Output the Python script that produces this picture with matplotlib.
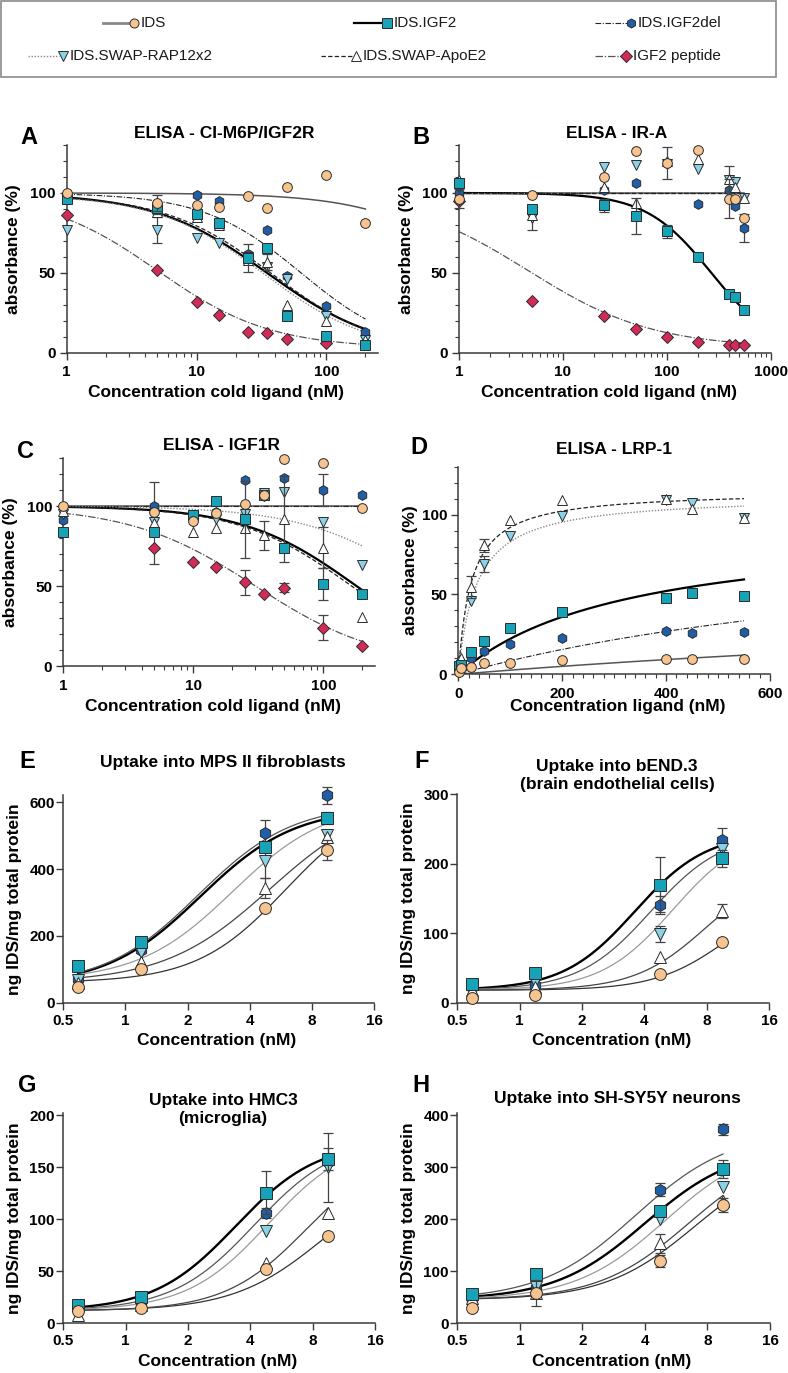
import numpy as np
import matplotlib
matplotlib.use('Agg')
import matplotlib.pyplot as plt
import matplotlib.ticker as ticker
from matplotlib.patches import Rectangle

plt.rcParams['font.family'] = ['Liberation Sans', 'DejaVu Sans']
plt.rcParams['font.weight'] = 'bold'

nan = np.nan

keys = ['IDS', 'IGF2', 'IGF2del', 'RAP', 'ApoE', 'pep']
names = {'IDS': 'IDS', 'IGF2': 'IDS.IGF2', 'IGF2del': 'IDS.IGF2del',
         'RAP': 'IDS.SWAP-RAP12x2', 'ApoE': 'IDS.SWAP-ApoE2', 'pep': 'IGF2 peptide'}

########################################
# A - ELISA CI-M6P/IGF2R
########################################
a_conc = [1, 5, 10, 15, 25, 35, 50, 100, 200]
a_vals = {'IDS':     [100, 94, 92.7, 91, 98, 90.6, 103.7, 111, 81],
          'IGF2':    [96, 90.6, 87, 81, 59.4, 65.6, 23, 10.6, 5],
          'IGF2del': [97, 92, 99, 95, 62, 77, 48, 29.6, 13],
          'RAP':     [77, 77, 72, 69, 60, 54, 46, 23, 8],
          'ApoE':    [97, 88, 85, 80, 58, 57, 30, 20, 8],
          'pep':     [86, 52, 32, 24, 13, 12.3, 8.5, 6, nan]}
a_err = {'IDS':  [0, 5, 0, 0, 0, 0, 0, 0, 0],
         'IGF2': [0, 4, 0, 3, 9, 0, 0, 0, 0],
         'RAP':  [0, 8, 0, 0, 0, 0, 0, 0, 0],
         'ApoE': [0, 0, 0, 0, 0, 5, 0, 0, 0]}
# bottom, top, IC50, hill
a_fit = {'IDS': (0, 100, 1800, 1), 'IGF2': (0, 100, 35, 1),
         'IGF2del': (0, 100, 64, 1.15), 'RAP': (0, 99, 33, 1.05),
         'ApoE': (0, 99, 38, 1.05), 'pep': (3, 100, 5, 1)}

########################################
# B - ELISA IR-A
########################################
b_conc = [1, 5, 25, 50, 100, 200, 400, 450, 550]
b_vals = {'IDS':     [96.5, 98.5, 110, 126, 118.8, 127, 96.5, 96.5, 84],
          'IGF2':    [106, 90, 92.3, 85.6, 76, 59.6, 37, 35, 27],
          'IGF2del': [100, 88, 101.7, 106, nan, 93, 101.7, 92, 78],
          'RAP':     [104, 84, 116, 117.7, 118, 115, 108, 107, 97],
          'ApoE':    [108, 86, 104, 94, 120, 121, 109, 104, 97],
          'pep':     [95, 32.5, 23, 15, 9.6, 6.4, 5, 5, 5]}
b_err = {'IDS':     [6, 0, 0, 0, 10, 0, 12, 0, 0],
         'IGF2':    [0, 0, 4, 11, 4, 0, 0, 0, 0],
         'IGF2del': [0, 0, 0, 0, 0, 0, 0, 0, 9],
         'RAP':     [0, 7, 0, 0, 0, 0, 0, 0, 0],
         'ApoE':    [0, 0, 0, 0, 0, 0, 8, 0, 0]}
b_fit = {'IDS': (100, 100, 1, 1), 'IGF2': (0, 100, 268, 1.38),
         'IGF2del': (100, 100, 1, 1), 'RAP': (100, 100, 1, 1),
         'ApoE': (100, 100, 1, 1), 'pep': (3, 100, 4.6, 0.72)}

########################################
# C - ELISA IGF1R
########################################
c_conc = [1, 5, 10, 15, 25, 35, 50, 100, 200]
c_vals = {'IDS':     [100, 96.5, 90.6, 95.8, 101.5, 106.7, 129.6, 126.7, 99],
          'IGF2':    [84, 84, 94.4, 103, 91.7, 107, 74, 51, 45],
          'IGF2del': [91, 100, 94, 96, 116, 106, 117.7, 110, 107],
          'RAP':     [95, 90, 90, 92, 95, 108, 109, 90, 63],
          'ApoE':    [97, 89.6, 84, 86, 86, 81.7, 91.7, 74, 30.8],
          'pep':     [nan, 74, 65, 62, 52.3, 45, 49, 24, 12.5]}
c_err = {'IGF2':    [0, 0, 0, 0, 24, 0, 0, 10, 0],
         'IGF2del': [0, 15, 0, 0, 0, 0, 0, 10, 0],
         'ApoE':    [0, 0, 0, 0, 0, 9, 27, 13, 0],
         'pep':     [0, 10, 0, 0, 8, 0, 3, 8, 0]}
c_fit = {'IDS': (100, 100, 1, 1), 'IGF2': (0, 100, 180, 1),
         'IGF2del': (100, 100, 1, 1), 'RAP': (0, 100, 660, 0.92),
         'ApoE': (0, 100, 165, 1), 'pep': (0, 100, 30, 0.9)}

########################################
# D - ELISA LRP-1 (binding)
########################################
d_conc = [1, 5, 25, 50, 100, 200, 400, 450, 550]
d_vals = {'IDS':     [1.6, 3.7, 4.8, 6.9, 7.3, 9, 9.6, 9.3, 9.3],
          'IGF2':    [5.2, 6, 13.7, 21, 28.7, 38.7, 47.5, 51, 49],
          'IGF2del': [3, 5, 10, 14.6, 19, 23, 27.3, 25.6, 26.6],
          'RAP':     [4, 6, 46, 69, 86.4, 99, 109, 107, 98],
          'ApoE':    [9, 10, 54.7, 80.8, 96.8, 109.4, 110, 103.7, 98]}
d_err = {'RAP':  [0, 0, 0, 5, 0, 0, 0, 0, 0],
         'ApoE': [0, 0, 7, 4, 0, 0, 0, 0, 0]}
# Bmax, Kd
d_fit = {'IDS': (60, 2200), 'IGF2': (94.5, 325), 'IGF2del': (97.7, 1054),
         'RAP': (112, 35), 'ApoE': (115, 25)}

########################################
# E-H - cellular uptake
########################################
uptake_conc = [0.59, 1.19, 4.75, 9.5]

e_vals = {'IDS': [48, 100, 283, 458], 'IGF2': [111, 183, 466, 552],
          'IGF2del': [70, 158, 508, 621], 'RAP': [68, 153, 423, 503],
          'ApoE': [60, 123, 343, 495]}
e_err = {'IDS': [0, 0, 0, 30], 'IGF2': [0, 0, 0, 18], 'IGF2del': [0, 0, 40, 25],
         'RAP': [0, 0, 50, 0], 'ApoE': [0, 0, 30, 0]}
e_fit = {'IDS': (60, 620, 6, 2), 'IGF2': (50, 585, 2.3, 1.9),
         'IGF2del': (50, 595, 2.25, 1.9), 'RAP': (65, 600, 3.3, 1.9),
         'ApoE': (60, 620, 5, 1.7)}

f_vals = {'IDS': [6.3, 11, 41.4, 88], 'IGF2': [26.5, 43.4, 170, 207.7],
          'IGF2del': [23, 25, 140, 233.7], 'RAP': [20.7, 30, 99, 220.7],
          'ApoE': [18, 23, 66.5, 132.5]}
f_err = {'IGF2': [0, 0, 40, 12], 'IGF2del': [0, 0, 13, 18],
         'RAP': [0, 0, 12, 0], 'ApoE': [0, 0, 0, 10]}
f_fit = {'IDS': (18, 160, 10, 2.5), 'IGF2': (18, 245, 3.6, 2.5),
         'IGF2del': (18, 245, 4.3, 2.5), 'RAP': (18, 250, 5.5, 2.5),
         'ApoE': (18, 200, 8, 2.5)}

g_vals = {'IDS': [12.2, 15, 52, 83.5], 'IGF2': [17.7, 25.7, 125.8, 158],
          'IGF2del': [14, 20, 106, 155], 'RAP': [13, 20, 89, 150],
          'ApoE': [8, 18, 57.8, 106]}
g_err = {'IGF2': [0, 0, 21, 11], 'IGF2del': [0, 0, 5, 0], 'RAP': [0, 0, 0, 33]}
g_fit = {'IDS': (12, 150, 9, 2), 'IGF2': (12, 175, 3.4, 2.2),
         'IGF2del': (12, 178, 4.2, 2.2), 'RAP': (12, 180, 4.9, 2.2),
         'ApoE': (12, 170, 7.5, 2.2)}

h_vals = {'IDS': [30, 58, 120, 228], 'IGF2': [56, 95, 217, 297],
          'IGF2del': [42, 67.5, 257, 373], 'RAP': [45, 70, 200.6, 262],
          'ApoE': [48, 58, 154, 235]}
h_err = {'IDS': [0, 25, 12, 14], 'IGF2': [0, 0, 0, 17],
         'IGF2del': [0, 0, 13, 10], 'ApoE': [0, 0, 18, 0]}
h_fit = {'IDS': (45, 330, 7, 2), 'IGF2': (45, 340, 4, 2),
         'IGF2del': (45, 370, 3.6, 1.9), 'RAP': (45, 350, 5, 2),
         'ApoE': (45, 340, 6.5, 2)}


def decline(x, bottom, top, mid, hill):
    return bottom + (top - bottom) / (1 + (x / mid) ** hill)

def rise(x, bottom, top, mid, hill):
    return bottom + (top - bottom) / (1 + (mid / x) ** hill)

def binding(x, bmax, kd):
    return bmax * x / (kd + x)


########################################
# Styles
########################################
markers = {'IDS': ('o', '#F7C48F'), 'IGF2': ('s', '#17A2B8'),
           'IGF2del': ('h', '#1E5FA8'), 'RAP': ('v', '#8CD2E6'),
           'ApoE': ('^', 'white'), 'pep': ('D', '#D42A5A')}
zord = {'pep': 4, 'IGF2del': 5, 'RAP': 6, 'ApoE': 7, 'IGF2': 8, 'IDS': 9}
lines = {'IDS': dict(color='#555555', lw=1.1, ls='-'),
         'IGF2': dict(color='black', lw=1.6, ls='-'),
         'IGF2del': dict(color='#222222', lw=0.8, ls=(0, (5, 1.5, 1, 1.5))),
         'RAP': dict(color='#8a8a8a', lw=1.0, ls=(0, (1, 1.2))),
         'ApoE': dict(color='#222222', lw=0.9, ls=(0, (3.5, 1.8))),
         'pep': dict(color='#555555', lw=0.9, ls=(0, (6, 1.5, 1, 1.5)))}
uptake_lines = {'IDS': dict(color='#333333', lw=0.9), 'IGF2': dict(color='black', lw=1.7),
                'IGF2del': dict(color='#555555', lw=0.9), 'RAP': dict(color='#9a9a9a', lw=0.9),
                'ApoE': dict(color='#444444', lw=0.9)}

W, H = 788, 1373
fig = plt.figure(figsize=(W / 100, H / 100), dpi=100)


def ftext(x, y, s, **kw):
    fig.text(x / W, 1 - y / H, s, **kw)


def make_axes(l, r, t, b):
    ax = fig.add_axes([l / W, 1 - b / H, (r - l) / W, (b - t) / H])
    for side in ['top', 'right']:
        ax.spines[side].set_visible(False)
    for side in ['left', 'bottom']:
        ax.spines[side].set_linewidth(1.1)
        ax.spines[side].set_color('#3a3a3a')
    ax.tick_params(which='major', direction='out', length=5, width=1.0,
                   color='#3a3a3a', labelsize=11)
    ax.tick_params(which='minor', direction='out', length=3, width=0.8, color='#3a3a3a')
    ax.patch.set_alpha(0)
    return ax


def draw_points(ax, conc, vals, err, ms):
    for k in keys:
        if k not in vals:
            continue
        m, c = markers[k]
        y = np.array(vals[k], dtype=float)
        if k in err:
            e = np.array(err[k], dtype=float)
            sel = e > 0
            ax.errorbar(np.array(conc)[sel], y[sel], yerr=e[sel], fmt='none',
                        ecolor='#444444', elinewidth=0.9, capsize=3.5, capthick=0.9,
                        zorder=zord[k] - 0.5, clip_on=False)
        size = ms - 1 if m == 'D' else ms
        ax.plot(conc, y, ls='none', marker=m, ms=size, mfc=c, mec='#2b2b2b',
                mew=0.7, zorder=zord[k], clip_on=False)


def log10_axis(ax, lo, hi, majors):
    ax.set_xscale('log')
    ax.set_xlim(lo, hi)
    ax.xaxis.set_major_locator(ticker.FixedLocator(majors))
    ax.xaxis.set_major_formatter(ticker.FixedFormatter([str(v) for v in majors]))
    ax.xaxis.set_minor_locator(ticker.LogLocator(base=10, subs=np.arange(2, 10)))
    ax.xaxis.set_minor_formatter(ticker.NullFormatter())


def percent_yaxis(ax):
    ax.set_ylim(0, 130)
    ax.set_yticks([0, 50, 100])
    ax.yaxis.set_minor_locator(ticker.MultipleLocator(10))
    ax.tick_params(axis='x', pad=4)
    ax.tick_params(axis='y', pad=3)


########################################
# Panels A-C (competition, log scale)
########################################
comp = [('A', 'ELISA - CI-M6P/IGF2R', (66.7, 378, 145, 353), a_conc, a_vals, a_err, a_fit, 250, [1, 10, 100], 200),
        ('B', 'ELISA - IR-A', (459, 770.7, 145, 352.7), b_conc, b_vals, b_err, b_fit, 1000, [1, 10, 100, 1000], 550),
        ('C', 'ELISA - IGF1R', (63.3, 375, 458, 666), c_conc, c_vals, c_err, c_fit, 250, [1, 10, 100], 200)]

for letter, title, box, conc, vals, err, fit, xmax, majors, fit_end in comp:
    ax = make_axes(*box)
    log10_axis(ax, 1, xmax, majors)
    percent_yaxis(ax)
    xs = np.geomspace(1, fit_end, 300)
    for k in keys:
        if k in fit:
            ax.plot(xs, decline(xs, *fit[k]), zorder=2, **lines[k])
    draw_points(ax, conc, vals, err, 7)
    l, r, t, b = box
    ftext((l + r) / 2 + 2, t - 12, title, ha='center', va='center', fontsize=12.5)
    ftext(l - 38, t - 7, letter, ha='center', va='center', fontsize=17)
    ftext(l - 53, (t + b) / 2, 'absorbance (%)', ha='center', va='center',
          rotation=90, fontsize=12.5)
    ftext((l + r) / 2 - 6, b + 40, 'Concentration cold ligand (nM)',
          ha='center', va='center', fontsize=12.5)

########################################
# Panel D (saturation binding, linear)
########################################
box = (458.3, 770, 466.7, 674.3)
ax = make_axes(*box)
ax.set_xlim(0, 600)
ax.set_xticks([0, 200, 400, 600])
ax.xaxis.set_minor_locator(ticker.MultipleLocator(20))
percent_yaxis(ax)
xs = np.linspace(0, 550, 300)
for k in keys:
    if k in d_fit:
        ax.plot(xs, binding(xs, *d_fit[k]), zorder=2, **lines[k])
draw_points(ax, d_conc, d_vals, d_err, 7)
l, r, t, b = box
ftext((l + r) / 2, 449, 'ELISA - LRP-1', ha='center', va='center', fontsize=12.5)
ftext(418.5, 447, 'D', ha='center', va='center', fontsize=17)
ftext(l - 48, (t + b) / 2, 'absorbance (%)', ha='center', va='center', rotation=90, fontsize=12.5)
ftext(617.5, 706, 'Concentration ligand (nM)', ha='center', va='center', fontsize=12.5)

########################################
# Panels E-H (uptake, log2 scale)
########################################
uptake = [('E', 'Uptake into MPS II fibroblasts', (63.3, 374, 795, 1002.7), e_vals, e_err, e_fit, 622, [0, 200, 400, 600], 762),
          ('F', 'Uptake into bEND.3\n(brain endothelial cells)', (457.3, 769, 794.3, 1002.7), f_vals, f_err, f_fit, 300, [0, 100, 200, 300], 775),
          ('G', 'Uptake into HMC3\n(microglia)', (63.3, 375, 1113.3, 1323.3), g_vals, g_err, g_fit, 202, [0, 50, 100, 150, 200], 1109),
          ('H', 'Uptake into SH-SY5Y neurons', (457.3, 770, 1113.3, 1323.3), h_vals, h_err, h_fit, 404, [0, 100, 200, 300, 400], 1098)]

for letter, title, box, vals, err, fit, ymax, yt, title_y in uptake:
    ax = make_axes(*box)
    ax.set_xscale('log', base=2)
    ax.set_xlim(0.5, 16)
    xt = [0.5, 1, 2, 4, 8, 16]
    ax.xaxis.set_major_locator(ticker.FixedLocator(xt))
    ax.xaxis.set_major_formatter(ticker.FixedFormatter(['0.5', '1', '2', '4', '8', '16']))
    ax.xaxis.set_minor_locator(ticker.NullLocator())
    ax.set_ylim(0, ymax)
    ax.set_yticks(yt)
    ax.tick_params(axis='y', pad=1)
    ax.tick_params(axis='x', pad=3)
    xs = np.geomspace(uptake_conc[0], uptake_conc[-1], 300)
    for k in keys:
        if k in fit:
            ax.plot(xs, rise(xs, *fit[k]), zorder=2, **uptake_lines[k])
    draw_points(ax, uptake_conc, vals, err, 8.5)
    l, r, t, b = box
    ftext((l + r) / 2 + 4, title_y, title, ha='center', va='center', fontsize=12.5,
          linespacing=1.25)
    ftext(l - 36, 761 if t < 1000 else 1085, letter, ha='center', va='center', fontsize=17)
    ftext(l - 49, (t + b) / 2, 'ng IDS/mg total protein', ha='center', va='center',
          rotation=90, fontsize=12.5)
    ftext((l + r) / 2 - 2, b + 38, 'Concentration (nM)', ha='center', va='center', fontsize=12.5)

########################################
# Legend box on top
########################################
lax = fig.add_axes([0, 1 - 80 / H, 1, 80 / H])
lax.set_xlim(0, W)
lax.set_ylim(80, 0)
lax.axis('off')
lax.add_patch(Rectangle((1, 1), 775, 76, fill=False, ec='#8a8a8a', lw=1.2))

legend_lines = {'IDS': dict(color='#8a8a8a', lw=2.0, ls='-'),
                'IGF2': dict(color='black', lw=1.6, ls='-'),
                'IGF2del': dict(color='#222222', lw=0.8, ls=(0, (5, 1.5, 1, 1.5))),
                'RAP': dict(color='#8a8a8a', lw=1.0, ls=(0, (1, 1.2))),
                'ApoE': dict(color='#222222', lw=0.9, ls=(0, (3.5, 1.8))),
                'pep': dict(color='#555555', lw=0.9, ls=(0, (6, 1.5, 1, 1.5)))}
# key: (line start, line end, row y)
legend_pos = {'IDS': (103, 130, 23), 'IGF2': (354, 383, 23), 'IGF2del': (595, 627, 23),
              'RAP': (28, 59, 56), 'ApoE': (321, 352, 56), 'pep': (595, 622, 56)}
for k in keys:
    x0, x1, y = legend_pos[k]
    lax.plot([x0, x1], [y, y], **legend_lines[k])
    m, c = markers[k]
    lax.plot([x1 + 4], [y], marker=m, ms=6.5 if m != 'D' else 6, mfc=c,
             mec='#2b2b2b', mew=0.7, ls='none')
    lax.text(x1 + 11, y, names[k], ha='left', va='center', fontsize=11,
             fontweight='normal', color='#1a1a1a')

plt.savefig('out.png', dpi=100)
